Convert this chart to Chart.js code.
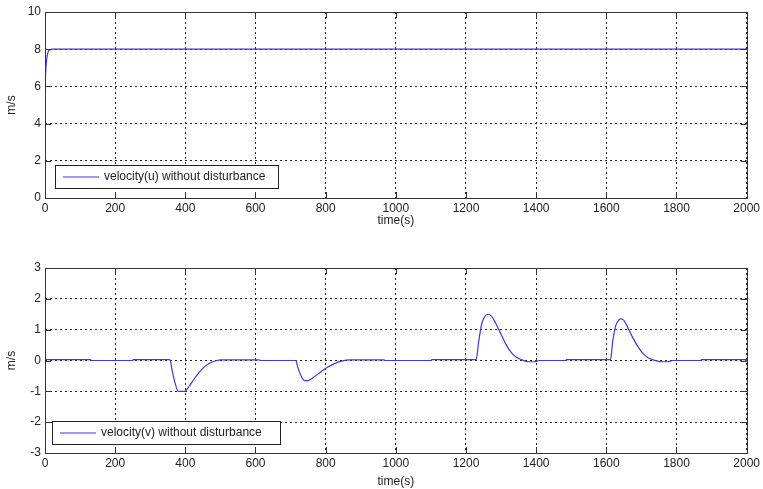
<!DOCTYPE html>
<html>
<head>
<meta charset="utf-8">
<script src="https://cdn.jsdelivr.net/npm/chart.js@4.4.0/dist/chart.umd.min.js"></script>
<style>
  body { margin: 0; background: #fff; }
  #wrap { position: relative; width: 763px; height: 489px; }
  .box { position: absolute; left: 0; width: 763px; }
</style>
</head>
<body>
<div id="wrap">
  <div class="box" style="top:0;height:245px"><canvas id="velU"></canvas></div>
  <div class="box" style="top:245px;height:244px"><canvas id="velV"></canvas></div>
</div>
<script>
// time (s) and surge velocity u
const tU = [0, 0.5, 2, 4, 8, 14, 20, 2000];
const uVals = [0, 4.9, 6.8, 7.3, 7.8, 7.97, 8, 8];

// time (s) and sway velocity v
const tV = [0, 130, 131, 250, 251, 356, 362, 370, 380, 398, 410, 425, 440, 455, 470, 490, 500, 610, 615,
  715, 720, 730, 740, 750, 765, 785, 805, 825, 845, 870, 967, 968, 1101, 1102,
  1229, 1236, 1245, 1255, 1263, 1272, 1285, 1300, 1315, 1330, 1345, 1360, 1375, 1395, 1410, 1485, 1486,
  1612, 1618, 1626, 1635, 1642, 1650, 1662, 1675, 1690, 1705, 1720, 1740, 1755, 1775, 1790, 1870, 1871, 2000];
const vVals = [0.03, 0.03, 0, 0, 0.03, 0.03, -0.3, -0.7, -1.0, -1.0, -0.85, -0.6, -0.38, -0.2, -0.08, 0, 0.02, 0.02, 0,
  0, -0.2, -0.5, -0.65, -0.65, -0.55, -0.38, -0.22, -0.1, -0.02, 0.02, 0.02, 0, 0, 0.03,
  0.03, 0.6, 1.2, 1.45, 1.5, 1.45, 1.2, 0.85, 0.5, 0.25, 0.1, 0.02, -0.04, -0.04, 0, 0, 0.03,
  0.03, 0.6, 1.1, 1.3, 1.35, 1.3, 1.05, 0.75, 0.45, 0.22, 0.08, 0, -0.04, -0.04, 0, 0, 0.03, 0.03];

const xTicks = [0, 200, 400, 600, 800, 1000, 1200, 1400, 1600, 1800, 2000];
const uTicks = [0, 2, 4, 6, 8, 10];
const vTicks = [-3, -2, -1, 0, 1, 2, 3];

const lineBlue = 'rgb(55,55,235)';
const font = { family: 'Liberation Sans, Arial, sans-serif', size: 12 };

// box around the axes, inward ticks, and the legend inside the plot
const matlabBox = {
  id: 'matlabBox',
  afterDraw(chart, args, opts) {
    const { ctx, chartArea: a, scales } = chart;
    ctx.save();
    ctx.strokeStyle = '#333';
    ctx.lineWidth = 1;
    ctx.setLineDash([]);
    ctx.beginPath();
    xTicks.forEach(v => {
      const px = Math.round(scales.x.getPixelForValue(v)) + 0.5;
      ctx.moveTo(px, a.bottom); ctx.lineTo(px, a.bottom - 6);
      ctx.moveTo(px, a.top); ctx.lineTo(px, a.top + 6);
    });
    opts.yt.forEach(v => {
      const py = Math.round(scales.y.getPixelForValue(v)) + 0.5;
      ctx.moveTo(a.left, py); ctx.lineTo(a.left + 6, py);
      ctx.moveTo(a.right, py); ctx.lineTo(a.right - 6, py);
    });
    ctx.stroke();
    ctx.strokeRect(Math.round(a.left) + 0.5, Math.round(a.top) + 0.5, Math.round(a.right - a.left), Math.round(a.bottom - a.top));

    // legend
    const lx = a.left + opts.lx, ly = a.bottom - opts.ly;
    ctx.fillStyle = '#fff';
    ctx.fillRect(lx, ly, opts.lw, 23);
    ctx.strokeStyle = '#222';
    ctx.strokeRect(lx + 0.5, ly + 0.5, opts.lw, 23);
    ctx.strokeStyle = lineBlue;
    ctx.beginPath();
    ctx.moveTo(lx + 8, ly + 12); ctx.lineTo(lx + 44, ly + 12);
    ctx.stroke();
    ctx.fillStyle = '#222';
    ctx.font = '12px ' + font.family;
    ctx.textBaseline = 'middle';
    ctx.fillText(opts.label, lx + 49, ly + 12);
    ctx.restore();
  }
};

function makeChart(id, xs, ys, yMin, yMax, yt, label, pad, xh, leg) {
  return new Chart(document.getElementById(id), {
    type: 'line',
    data: {
      datasets: [{
        data: xs.map((t, i) => ({ x: t, y: ys[i] })),
        borderColor: lineBlue,
        borderWidth: 1.2,
        pointRadius: 0,
        cubicInterpolationMode: 'monotone',
        fill: false
      }]
    },
    options: {
      responsive: true,
      maintainAspectRatio: false,
      animation: false,
      layout: { padding: pad },
      plugins: {
        legend: { display: false },
        tooltip: { enabled: false },
        matlabBox: { yt: yt, label: label, lx: leg.x, ly: leg.y, lw: leg.w }
      },
      scales: {
        x: {
          type: 'linear', min: 0, max: 2000,
          afterBuildTicks: s => { s.ticks = xTicks.map(v => ({ value: v })); },
          afterFit: s => { s.height = xh; },
          ticks: { color: '#222', font: font, maxRotation: 0, padding: 3, callback: v => String(v) },
          grid: { color: '#222', lineWidth: 1, drawTicks: false },
          border: { display: false, dash: [2, 3] },
          title: { display: true, text: 'time(s)', color: '#222', font: font, padding: { top: 0, bottom: 0 } }
        },
        y: {
          min: yMin, max: yMax,
          afterBuildTicks: s => { s.ticks = yt.map(v => ({ value: v })); },
          afterFit: s => { s.width = 45; },
          ticks: { color: '#222', font: font, padding: 4, callback: v => String(v) },
          grid: { color: '#222', lineWidth: 1, drawTicks: false },
          border: { display: false, dash: [2, 3] },
          title: { display: true, text: 'm/s', color: '#222', font: font, padding: { bottom: 6 } }
        }
      }
    },
    plugins: [matlabBox]
  });
}

makeChart('velU', tU, uVals, 0, 10, uTicks, 'velocity(u) without disturbance',
  { top: 12, right: 15, left: 0, bottom: 17 }, 30, { x: 10, y: 33, w: 223 });
makeChart('velV', tV, vVals, -3, 3, vTicks, 'velocity(v) without disturbance',
  { top: 23, right: 15, left: 0, bottom: 0 }, 36, { x: 7, y: 32, w: 228 });
</script>
</body>
</html>
